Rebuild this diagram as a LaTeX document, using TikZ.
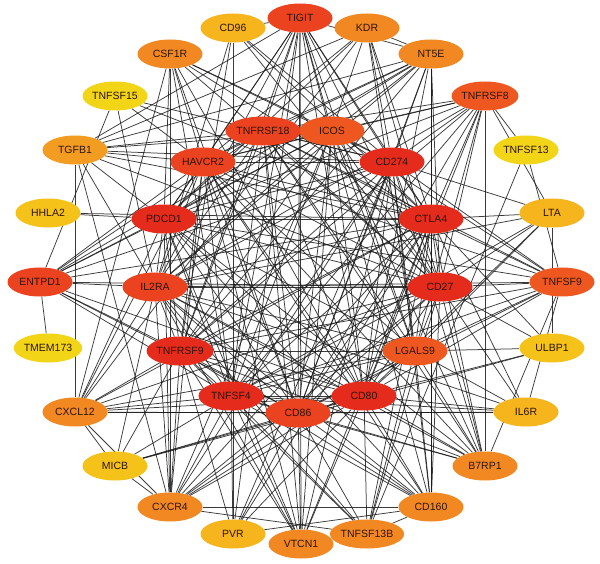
\documentclass[tikz,border=0pt]{standalone}
\usepackage{fontspec}
\setmainfont{Liberation Sans}
\usetikzlibrary{shapes.geometric,backgrounds}
\definecolor{cRed}{HTML}{E52B1C}
\definecolor{cRedO}{HTML}{EB421F}
\definecolor{cOR}{HTML}{EE5820}
\definecolor{cOrange}{HTML}{F28822}
\definecolor{cLOr}{HTML}{F39C22}
\definecolor{cYO}{HTML}{F6B41D}
\definecolor{cYL}{HTML}{F5C21A}
\definecolor{cYellow}{HTML}{F2D516}
\definecolor{txt}{HTML}{2E140A}
\tikzset{
  gene/.style={ellipse, draw=none, minimum width=65pt, minimum height=29pt, inner sep=0pt,
    text=txt, font=\fontsize{10.5}{12}\selectfont},
  edge/.style={draw=black!90, line width=0.75pt, opacity=0.85}
}
\begin{document}
\begin{tikzpicture}[x=1pt,y=-1pt]
\useasboundingbox (0,0) rectangle (600,564);
% outer ring
\node[gene,fill=cRedO]   (TIGIT)    at (300,18)    {TIGIT};
\node[gene,fill=cOrange] (KDR)      at (367,28)    {KDR};
\node[gene,fill=cOrange] (NT5E)     at (431,54)    {NT5E};
\node[gene,fill=cOR]     (TNFRSF8)  at (485,96)    {TNFRSF8};
\node[gene,fill=cYellow] (TNFSF13)  at (526,150)   {TNFSF13};
\node[gene,fill=cYO]     (LTA)      at (552,213)   {LTA};
\node[gene,fill=cOR]     (TNFSF9)   at (562,282)   {TNFSF9};
\node[gene,fill=cYL]     (ULBP1)    at (552,348)   {ULBP1};
\node[gene,fill=cYO]     (IL6R)     at (526,412)   {IL6R};
\node[gene,fill=cOrange] (B7RP1)    at (485,466)   {B7RP1};
\node[gene,fill=cOrange] (CD160)    at (431,507)   {CD160};
\node[gene,fill=cOrange] (TNFSF13B) at (367,534)   {TNFSF13B};
\node[gene,fill=cOrange] (VTCN1)    at (301,544)   {VTCN1};
\node[gene,fill=cYO]     (PVR)      at (233,534)   {PVR};
\node[gene,fill=cOrange] (CXCR4)    at (170,507)   {CXCR4};
\node[gene,fill=cYL]     (MICB)     at (115,466)   {MICB};
\node[gene,fill=cOrange] (CXCL12)   at (75,412)    {CXCL12};
\node[gene,fill=cYellow] (TMEM173)  at (48,348)    {TMEM173};
\node[gene,fill=cRedO]   (ENTPD1)   at (40,282)    {ENTPD1};
\node[gene,fill=cYL]     (HHLA2)    at (48,213)    {HHLA2};
\node[gene,fill=cLOr]    (TGFB1)    at (75,150)    {TGFB1};
\node[gene,fill=cYellow] (TNFSF15)  at (115,96)    {TNFSF15};
\node[gene,fill=cOrange] (CSF1R)    at (170,54)    {CSF1R};
\node[gene,fill=cYO]     (CD96)     at (233,28)    {CD96};
% inner ring
\node[gene,fill=cRedO]   (CD86)     at (298,413)   {CD86};
\node[gene,fill=cRed]    (CD80)     at (364,396)   {CD80};
\node[gene,fill=cOR]     (LGALS9)   at (415,351)   {LGALS9};
\node[gene,fill=cRed]    (CD27)     at (440,287)   {CD27};
\node[gene,fill=cRed]    (CTLA4)    at (431,219)   {CTLA4};
\node[gene,fill=cRed]    (CD274)    at (392,162)   {CD274};
\node[gene,fill=cOR]     (ICOS)     at (332,131)   {ICOS};
\node[gene,fill=cRedO]   (TNFRSF18) at (263,131)   {TNFRSF18};
\node[gene,fill=cRedO]   (HAVCR2)   at (203,162)   {HAVCR2};
\node[gene,fill=cRed]    (PDCD1)    at (164,219)   {PDCD1};
\node[gene,fill=cRedO]   (IL2RA)    at (155,287)   {IL2RA};
\node[gene,fill=cRed]    (TNFRSF9)  at (180,351)   {TNFRSF9};
\node[gene,fill=cRed]    (TNFSF4)   at (231,396)   {TNFSF4};
\begin{pgfonlayer}{background}
\fill[white] (0,0) rectangle (600,564);
\def\inner{CD86,CD80,LGALS9,CD27,CTLA4,CD274,ICOS,TNFRSF18,HAVCR2,PDCD1,IL2RA,TNFRSF9,TNFSF4}
\foreach \a [count=\i] in \inner {
  \foreach \b [count=\j] in \inner {
    \ifnum\j>\i \draw[edge] (\a) -- (\b); \fi
  }
}
\foreach \s/\ts in {
  TIGIT/{TNFRSF18,ICOS,CD274,CTLA4,CD27,CD80,CD86,TNFSF4,TNFRSF9,IL2RA,PDCD1,HAVCR2,LGALS9,PVR,CD96,VTCN1,CD160,NT5E},
  CD96/{PVR,CTLA4,CD27,IL2RA,TNFRSF9,CD274},
  KDR/{HAVCR2,PDCD1,CD274,CTLA4,ICOS,CD27,NT5E,CXCL12,TGFB1,LGALS9},
  NT5E/{ENTPD1,CD160,TNFRSF18,HAVCR2,PDCD1,IL2RA,ICOS,CD274,CTLA4,CD27,TNFRSF9,CD80,CD86,TGFB1},
  TNFRSF8/{TNFSF13,B7RP1,ICOS,CD274,TNFRSF18,HAVCR2,PDCD1,CTLA4,CD27,IL2RA,LGALS9,CD80,CD86,TNFSF4,TNFRSF9,LTA},
  TNFSF13/{TNFSF13B,TNFSF9},
  LTA/{CTLA4,CD27,LGALS9,CD80,ULBP1,TNFSF4,IL2RA,CD274},
  TNFSF9/{CTLA4,CD27,LGALS9,CD80,CD86,ICOS,CD274,TNFRSF9,TNFSF4,PDCD1,HAVCR2,IL6R,B7RP1,IL2RA,TNFRSF18},
  ULBP1/{CD27,LGALS9,MICB,CD80,CTLA4},
  IL6R/{CD80,CD86,LGALS9,CD27,TNFSF4,IL2RA,CTLA4,CXCL12},
  B7RP1/{ICOS,CD80,CD86,CTLA4,CD274,LGALS9,TNFSF4,TNFRSF9,IL2RA,CD27,PDCD1,HAVCR2,TNFRSF18},
  CD160/{CD80,CD86,TNFSF4,TNFRSF9,IL2RA,CTLA4,LGALS9,CD274,PDCD1,HAVCR2,CD27,TNFSF13B,PVR,CXCR4},
  TNFSF13B/{CD80,CD86,TNFSF4,CD27,LGALS9,TNFRSF9,CTLA4,IL2RA,CXCR4},
  VTCN1/{CD80,CD86,TNFSF4,TNFRSF9,CTLA4,PDCD1,CD274,HAVCR2,IL2RA,ICOS,TNFRSF18},
  PVR/{TNFSF4,CD86,CD80,CTLA4,TNFRSF9,CD274},
  CXCR4/{CXCL12,CSF1R,MICB,TNFSF4,CD86,CD80,LGALS9,CD27,CTLA4,TNFRSF9,IL2RA,PDCD1,HAVCR2,TGFB1,ICOS,CD274},
  MICB/{TNFRSF9,TNFSF4,IL2RA,CD86,CD80,CXCL12},
  CXCL12/{TGFB1,CD86,TNFSF4,TNFRSF9,IL2RA,PDCD1,HAVCR2,CTLA4,CD27,CD80,LGALS9,CSF1R},
  TMEM173/{ENTPD1},
  ENTPD1/{PDCD1,IL2RA,TNFRSF9,HAVCR2,CTLA4,CD27,CD274,TNFRSF18,TNFSF4,CD86,ICOS,CD80},
  HHLA2/{PDCD1,CTLA4},
  TGFB1/{HAVCR2,PDCD1,IL2RA,CTLA4,CD274,TNFRSF18,ICOS,TIGIT,CD27},
  TNFSF15/{HAVCR2,IL2RA,CTLA4,ENTPD1,CD274},
  CSF1R/{HAVCR2,ICOS,CD274,CTLA4,CD86,TNFSF4,CD80,PDCD1,CD27}} {
  \foreach \t in \ts { \draw[edge] (\s) -- (\t); }
}
\end{pgfonlayer}
\end{tikzpicture}
\end{document}
